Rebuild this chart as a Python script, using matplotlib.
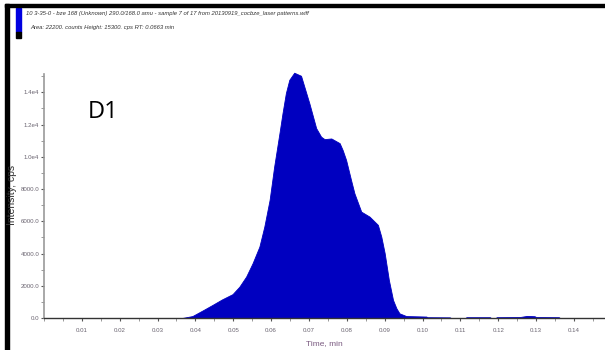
from matplotlib import pyplot as plt
from matplotlib.patches import Rectangle
from matplotlib.ticker import MultipleLocator, FixedLocator

# chromatogram trace (time in min, intensity in cps)
time = [0.0000, 0.0365, 0.0392, 0.0420, 0.0445, 0.0470, 0.0498, 0.0516, 0.0534,
        0.0551, 0.0569, 0.0582, 0.0596, 0.0608, 0.0622, 0.0630, 0.0639, 0.0648,
        0.0661, 0.0679, 0.0701, 0.0719, 0.0732, 0.0741, 0.0759, 0.0781, 0.0789,
        0.0798, 0.0811, 0.0820, 0.0838, 0.0860, 0.0882, 0.0891, 0.0900, 0.0911,
        0.0922, 0.0931, 0.0939, 0.0957, 0.1010, 0.1012, 0.1072, 0.1075, 0.1113,
        0.1116, 0.1178, 0.1181, 0.1193, 0.1196, 0.1257, 0.1276, 0.1296, 0.1300,
        0.1360, 0.1363, 0.1480]
intensity = [0, 0, 120, 480, 810, 1150, 1480, 1940, 2570,
             3400, 4430, 5670, 7330, 9390, 11470, 12700, 13960, 14780,
             15220, 15030, 13320, 11780, 11250, 11100, 11140, 10850, 10420,
             9810, 8570, 7740, 6600, 6290, 5780, 5050, 4020, 2360,
             1120, 600, 290, 120, 90, 50, 40, 0, 0,
             50, 50, 0, 0, 50, 60, 130, 110, 60,
             50, 0, 0]

y_ticks = [0, 2000, 4000, 6000, 8000, 10000, 12000, 14000]
y_tick_labels = ['0.0', '2000.0', '4000.0', '6000.0', '8000.0', '1.0e4', '1.2e4', '1.4e4']
x_ticks = [0.01, 0.02, 0.03, 0.04, 0.05, 0.06, 0.07, 0.08, 0.09, 0.10,
           0.11, 0.12, 0.13, 0.14]
x_tick_labels = ['0.01', '0.02', '0.03', '0.04', '0.05', '0.06', '0.07', '0.08',
                 '0.09', '0.10', '0.11', '0.12', '0.13', '0.14']

narrow = ['Liberation Sans Narrow', 'Liberation Sans', 'DejaVu Sans']
W, H = 605, 350

fig = plt.figure(figsize=(6.05, 3.5), dpi=100)
ax = fig.add_axes([44 / W, 1 - 318 / H, 1 - 44 / W, (318 - 74) / H])

ax.fill_between(time, intensity, 0, color='#0000C0', linewidth=0.6,
                edgecolor='#0000C0', clip_on=False)

ax.set_xlim(0, 0.1482)
ax.set_ylim(0, 15140)

ax.spines['top'].set_visible(False)
ax.spines['right'].set_visible(False)
ax.spines['left'].set_color('#999999')
ax.spines['bottom'].set_color('#333333')
ax.spines['left'].set_linewidth(1.2)
ax.spines['bottom'].set_linewidth(1.0)

ax.yaxis.set_major_locator(FixedLocator(y_ticks))
ax.set_yticklabels(y_tick_labels)
ax.yaxis.set_minor_locator(MultipleLocator(1000))
ax.xaxis.set_major_locator(FixedLocator(x_ticks))
ax.set_xticklabels(x_tick_labels)
ax.xaxis.set_minor_locator(MultipleLocator(0.005))

ax.tick_params(axis='both', which='major', length=2.5, width=0.8, color='#555555',
               labelsize=4.4, labelcolor='#6a6470', pad=1)
ax.tick_params(axis='x', which='major', pad=5)
ax.tick_params(axis='both', which='minor', length=2, width=0.6, color='#888888')
for lab in ax.get_xticklabels() + ax.get_yticklabels():
    lab.set_family(narrow)

# axis titles
fig.text(12 / W, 1 - 195 / H, 'Intensity, cps', rotation=90, fontsize=7.5,
         color='#333333', family=narrow, ha='center', va='center')
fig.text(324 / W, 1 - 344 / H, 'Time, min', fontsize=6, color='#7a5a80',
         family=narrow, ha='center', va='center')

fig.text(88 / W, 1 - 112 / H, 'D1', fontsize=17, family='Open Sans',
         va='center', ha='left', color='black')

# header lines of the instrument window
fig.text(26 / W, 1 - 14 / H,
         '10 3-35-0 - bze 168 (Unknown) 290.0/168.0 amu - sample 7 of 17 from 20130919_cocbze_laser patterns.wiff',
         fontsize=4.2, style='italic', family=narrow, color='#333333', va='center')
fig.text(30 / W, 1 - 27 / H,
         'Area: 22200. counts Height: 15300. cps RT: 0.0663 min',
         fontsize=4.2, style='italic', family=narrow, color='#333333', va='center')

# swatch and frame
fig.add_artist(Rectangle((16 / W, 1 - 32 / H), 5 / W, 24 / H,
                         transform=fig.transFigure, color='#0000E0'))
fig.add_artist(Rectangle((16 / W, 1 - 38 / H), 5 / W, 6 / H,
                         transform=fig.transFigure, color='black'))
fig.add_artist(Rectangle((5 / W, 0), 4 / W, 1 - 4 / H,
                         transform=fig.transFigure, color='black'))
fig.add_artist(Rectangle((5 / W, 1 - 7 / H), 600 / W, 3 / H,
                         transform=fig.transFigure, color='black'))

fig.savefig('out.png', dpi=100)
